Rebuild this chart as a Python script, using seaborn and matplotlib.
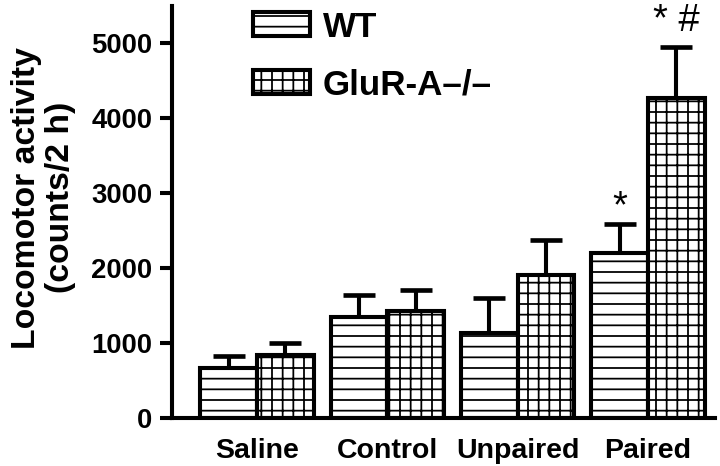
import numpy as np
import pandas as pd
import matplotlib
matplotlib.use("Agg")
import matplotlib.pyplot as plt
from matplotlib.patches import Patch
import seaborn as sns

# data
groups = ["Saline", "Control", "Unpaired", "Paired"]
genotypes = ["WT", "GluR-A–/–"]
wt_mean = [665, 1350, 1136, 2206]
wt_sem = [165, 295, 460, 390]
ko_mean = [845, 1430, 1915, 4278]
ko_sem = [160, 280, 465, 670]
marks = ["", "", "", "*"]
ko_marks = ["", "", "", "* #"]

DPI = 128
sns.set_style("ticks")
plt.rcParams["font.family"] = ["Liberation Sans", "DejaVu Sans"]
plt.rcParams["hatch.linewidth"] = 1.0
plt.rcParams["text.color"] = "black"
plt.rcParams["axes.labelcolor"] = "black"
plt.rcParams["xtick.color"] = "black"
plt.rcParams["ytick.color"] = "black"
plt.rcParams["axes.edgecolor"] = "black"

df = pd.DataFrame({
    "group": groups * 2,
    "genotype": [genotypes[0]] * 4 + [genotypes[1]] * 4,
    "value": wt_mean + ko_mean,
})

fig = plt.figure(figsize=(720 / DPI, 466 / DPI), dpi=DPI)
ax = fig.add_axes([172 / 720, 1 - 418 / 466, 543 / 720, 412 / 466])

sns.barplot(data=df, x="group", y="value", hue="genotype", order=groups,
            hue_order=genotypes, errorbar=None, width=0.87, gap=0,
            palette=["white", "white"], edgecolor="black", linewidth=2.3,
            ax=ax, legend=False, zorder=2)

hatches = ["--", "++"]
errs = [wt_sem, ko_sem]
txts = [marks, ko_marks]
txt_gap = [-30, 110]
bar_sets = list(ax.containers)
for j, cont in enumerate(bar_sets):
    for i, bar in enumerate(cont):
        bar.set_hatch(hatches[j])
        xc = bar.get_x() + bar.get_width() / 2
        h = bar.get_height()
        _, caps, _ = ax.errorbar(xc, h, yerr=[[0], [errs[j][i]]], color="black",
                                 lw=2.3, capsize=9, capthick=2.6, zorder=1)
        # only keep the upper cap
        for c in caps:
            if c.get_ydata()[0] <= h:
                c.set_visible(False)
        if txts[j][i]:
            ax.text(xc, h + errs[j][i] + txt_gap[j], txts[j][i], ha="center",
                    va="bottom", fontsize=21.5)

ax.set_xlim(-0.652, 3.514)
ax.set_ylim(0, 5500)
ax.set_yticks([0, 1000, 2000, 3000, 4000, 5000])
ax.set_xlabel("")
ax.set_ylabel("Locomotor activity\n(counts/2 h)", fontsize=19, fontweight="bold",
              linespacing=1.12)
ax.yaxis.set_label_coords(-0.177, 0.535)
ax.tick_params(axis="y", labelsize=15.5, width=2.3, length=7, pad=4)
ax.tick_params(axis="x", labelsize=16, length=0, pad=11)
for lab in ax.get_xticklabels() + ax.get_yticklabels():
    lab.set_fontweight("bold")
sns.despine(ax=ax)
for s in ["left", "bottom"]:
    ax.spines[s].set_linewidth(2.3)

handles = [Patch(facecolor="white", edgecolor="black", hatch=hatches[k], lw=2.3)
           for k in range(2)]
ax.legend(handles, genotypes, loc="upper left", bbox_to_anchor=(0.149, 0.989),
          frameon=False, prop={"size": 19.7, "weight": "bold"}, handlelength=1.64,
          handleheight=0.66, labelspacing=0.7, handletextpad=0.35,
          borderpad=0, borderaxespad=0)

fig.savefig("out.png", dpi=DPI)
